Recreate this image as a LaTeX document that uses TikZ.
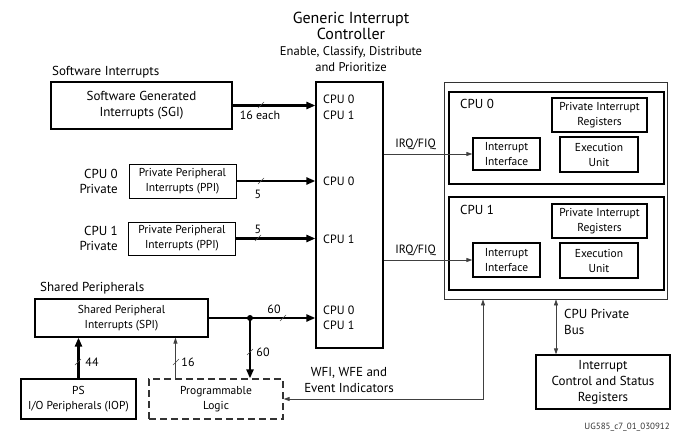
\documentclass[tikz,border=0pt]{standalone}
\usepackage{fontspec}
\setmainfont{PT Sans}
\usetikzlibrary{arrows.meta,calc}
\begin{document}
\begin{tikzpicture}[x=1pt,y=-1pt,
  box/.style={draw, line width=1.2pt, align=center, inner sep=0pt, font=\fontsize{13}{16}\selectfont},
  sbox/.style={box, font=\fontsize{11.5}{15}\selectfont},
  lbl/.style={inner sep=0pt, align=center, font=\fontsize{12}{15.5}\selectfont},
  bus/.style={line width=2.4pt, -{Triangle[length=9pt,width=7pt]}},
  thin/.style={line width=0.8pt, draw=black!75, -{Triangle[length=6pt,width=4pt]}},
  slashpic/.pic={\draw[line width=0.5pt, black!70] (-3,3) -- (3,-3);},
  dot/.style={circle, fill=black, inner sep=0pt, minimum size=6pt}]
\useasboundingbox (0,0) rectangle (690,441);

% title
\node[lbl, font=\fontsize{16}{16.5}\selectfont] (title) at (351,26) {Generic Interrupt\\Controller};
\node[lbl, font=\fontsize{12.6}{16}\selectfont] (subtitle) at (351,59) {Enable, Classify, Distribute\\and Prioritize};

% GIC
\node[draw, line width=1.2pt, minimum width=67pt, minimum height=266pt, inner sep=0pt] (gic) at (349.5,215) {};

% left side
\node[lbl, anchor=west, font=\fontsize{13}{15}\selectfont] (swlab) at (52,72) {Software Interrupts};
\node[box, minimum width=181pt, minimum height=47pt] (sgi) at (141.5,105.5) {Software Generated\\Interrupts (SGI)};
\node[sbox, line width=0.8pt, minimum width=107pt, minimum height=34pt] (ppi0) at (182.5,181) {Private Peripheral\\Interrupts (PPI)};
\node[sbox, line width=0.8pt, minimum width=107pt, minimum height=33pt] (ppi1) at (182,238.5) {Private Peripheral\\Interrupts (PPI)};
\node[lbl, anchor=east, align=right, font=\fontsize{13}{15}\selectfont] (p0lab) at (118,181) {CPU 0\\Private};
\node[lbl, anchor=east, align=right, font=\fontsize{13}{15}\selectfont] (p1lab) at (118,238) {CPU 1\\Private};
\node[lbl, anchor=west, font=\fontsize{13}{15}\selectfont] (shlab) at (40,288) {Shared Peripherals};
\node[sbox, minimum width=173pt, minimum height=38pt] (spi) at (121.5,318) {Shared Peripheral\\Interrupts (SPI)};
\node[sbox, minimum width=115pt, minimum height=40pt] (iop) at (78.5,399) {PS\\I/O Peripherals (IOP)};
\node[sbox, dashed, dash pattern=on 7pt off 4pt, draw=black!80, minimum width=134pt, minimum height=40pt] (pl) at (216,399) {Programmable\\Logic};

% GIC labels
\node[lbl, anchor=west] (g1) at (323,107.5) {CPU 0\\CPU 1};
\node[lbl, anchor=west] (g2) at (323,181) {CPU 0};
\node[lbl, anchor=west] (g3) at (323,239) {CPU 1};
\node[lbl, anchor=west] (g4) at (323,318) {CPU 0\\CPU 1};

% bus arrows
\draw[bus] (sgi.east) -- (sgi.east -| gic.west);
\draw[bus] (ppi0.east) -- (ppi0.east -| gic.west);
\draw[bus] (ppi1.east) -- (ppi1.east -| gic.west);
\node[dot] (j) at (250,318) {};
\draw[line width=2.4pt] (spi.east) -- (j.center);
\draw[bus] (j.center) -- (j.center -| gic.west);
\draw[bus] (j.center) -- (j.center |- pl.north);
\draw[bus] (iop.north) -- (iop.north |- spi.south);
\coordinate (pl16) at ($(pl.north west)!0.2!(pl.north east)$);
\draw[thin] (pl16) -- (pl16 |- spi.south);

% slashes and counts
\path (261,105) pic{slashpic} (261,181) pic{slashpic} (258,238) pic{slashpic}
      (283,318) pic{slashpic} (250,352) pic{slashpic} (78,362) pic{slashpic} (176,362) pic{slashpic};
\node[lbl] (n16e) at (260,115) {16 each};
\node[lbl] (n5a) at (258,194) {5};
\node[lbl] (n5b) at (258,229) {5};
\node[lbl] (n60a) at (274,309) {60};
\node[lbl] (n60b) at (263,352) {60};
\node[lbl] (n44) at (92,362) {44};
\node[lbl] (n16) at (188,362) {16};

% CPU block
\node[draw, line width=0.8pt, draw=black!80, minimum width=223pt, minimum height=217pt, inner sep=0pt] (cpus) at (555.5,190.5) {};
\node[draw, line width=1.4pt, minimum width=215pt, minimum height=92pt, inner sep=0pt] (c0) at (556.5,138) {};
\node[draw, line width=1.4pt, minimum width=215pt, minimum height=93pt, inner sep=0pt] (c1) at (556.5,243.5) {};
\node[lbl, anchor=west, font=\fontsize{13}{15}\selectfont] (c0lab) at (460,104) {CPU 0};
\node[lbl, anchor=west, font=\fontsize{13}{15}\selectfont] (c1lab) at (460,210) {CPU 1};
\node[sbox, minimum width=95pt, minimum height=34pt] (pir0) at (599.5,115) {Private Interrupt\\Registers};
\node[sbox, minimum width=78pt, minimum height=35pt] (eu0) at (599,154.5) {Execution\\Unit};
\node[sbox, minimum width=67pt, minimum height=32pt] (ii0) at (506.5,154) {Interrupt\\Interface};
\node[sbox, minimum width=95pt, minimum height=34pt] (pir1) at (599.5,221) {Private Interrupt\\Registers};
\node[sbox, minimum width=78pt, minimum height=35pt] (eu1) at (599,260.5) {Execution\\Unit};
\node[sbox, minimum width=67pt, minimum height=34pt] (ii1) at (506.5,260) {Interrupt\\Interface};

\draw[thin] (ii0.west -| gic.east) -- node[lbl, above=4pt, pos=0.36] (irq0) {IRQ/FIQ} (ii0.west);
\draw[thin] (ii1.west -| gic.east) -- node[lbl, above=4pt, pos=0.36] (irq1) {IRQ/FIQ} (ii1.west);

% ICSR
\node[box, minimum width=134pt, minimum height=54pt] (icsr) at (603,382) {Interrupt\\Control and Status\\Registers};
\coordinate (busx) at (556,0);
\draw[thin, {Triangle[length=6pt,width=4pt]}-{Triangle[length=6pt,width=4pt]}] (cpus.south -| busx) -- (icsr.north -| busx);
\node[lbl, anchor=west, align=left, font=\fontsize{13}{16}\selectfont] (buslab) at (564,322) {CPU Private\\Bus};

% WFI
\coordinate (wfix) at (483,0);
\draw[thin, {Triangle[length=6pt,width=4pt]}-{Triangle[length=6pt,width=4pt]}] (cpus.south -| wfix) -- (wfix |- pl.east) -- (pl.east);
\node[lbl, font=\fontsize{13}{16}\selectfont] (wfilab) at (349,380) {WFI, WFE and\\Event Indicators};

\node[lbl, anchor=east, font=\fontsize{9}{10}\selectfont, black!80] (foot) at (670,427) {UG585\_c7\_01\_030912};
\end{tikzpicture}
\end{document}
